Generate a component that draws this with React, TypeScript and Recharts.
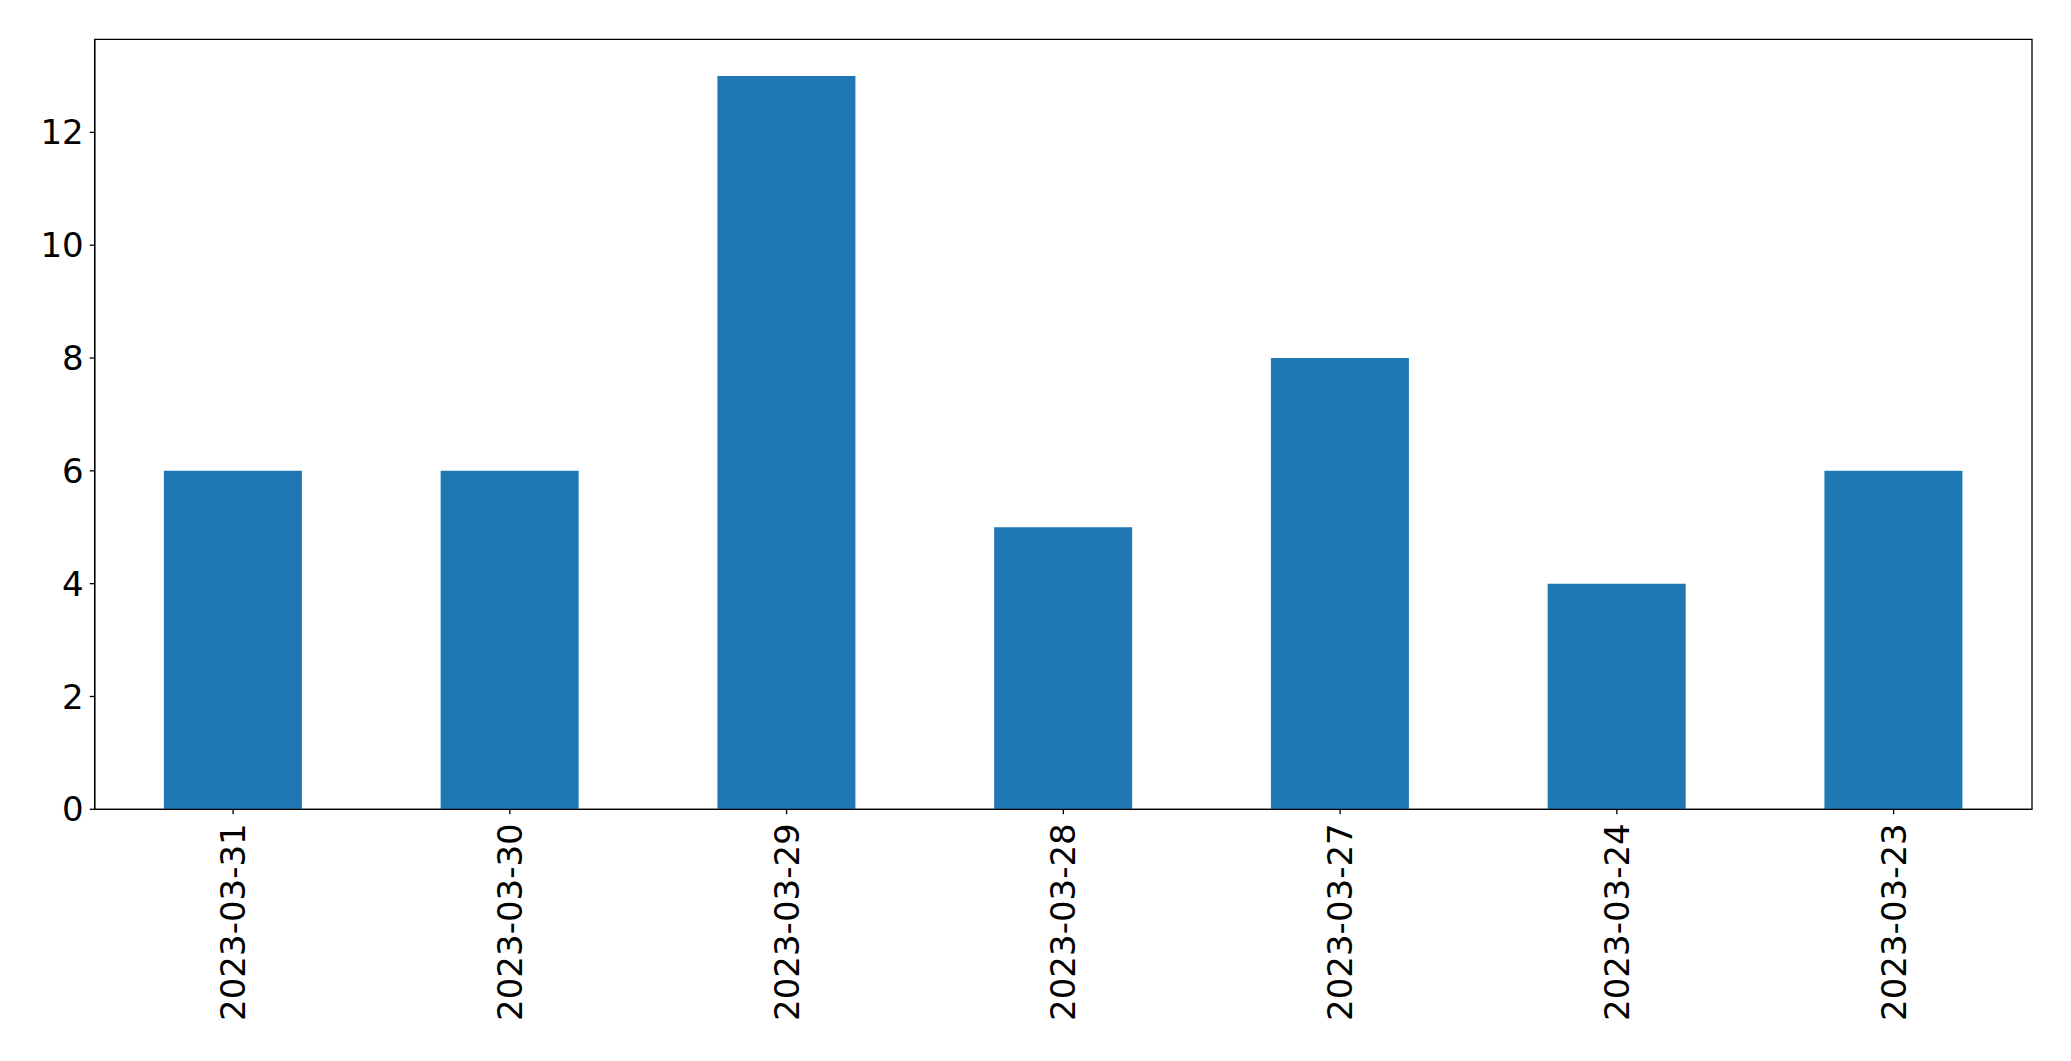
import React from "react";
import { BarChart, Bar, XAxis, YAxis, ReferenceArea } from "recharts";

const categories = ["2023-03-31", "2023-03-30", "2023-03-29", "2023-03-28", "2023-03-27", "2023-03-24", "2023-03-23"];
const counts = [6, 6, 13, 5, 8, 4, 6];
const yTicks = [0, 2, 4, 6, 8, 10, 12];
const yMax = 13.65;

const data = categories.map((c, i) => ({ date: c, count: counts[i] }));

const FONT = "DejaVu Sans";

const XTick = (props: any) => {
  const { x, y, payload } = props;
  return (
    <text
      x={x}
      y={y}
      transform={`rotate(-90, ${x}, ${y})`}
      textAnchor="end"
      dominantBaseline="central"
      fontFamily={FONT}
      fontSize={34}
      fill="#000"
    >
      {payload.value}
    </text>
  );
};

export default function App() {
  return (
    <div style={{ position: "absolute", left: 0, top: 0, width: 2071, height: 1061, background: "#fff" }}>
      <BarChart
        width={2071}
        height={1061}
        data={data}
        margin={{ top: 39.3, right: 39, left: 14.7, bottom: 11.7 }}
        barCategoryGap="25%"
      >
        <XAxis
          dataKey="date"
          height={240}
          interval={0}
          tick={<XTick />}
          tickSize={5}
          tickMargin={9}
          tickLine={{ stroke: "#000", strokeWidth: 1.3 }}
          axisLine={{ stroke: "#000", strokeWidth: 1.3 }}
        />
        <YAxis
          width={80}
          domain={[0, yMax]}
          ticks={yTicks}
          interval={0}
          tickSize={5}
          tickMargin={6}
          tick={{ fontFamily: FONT, fontSize: 34, fill: "#000" }}
          tickLine={{ stroke: "#000", strokeWidth: 1.3 }}
          axisLine={{ stroke: "#000", strokeWidth: 1.3 }}
        />
        <Bar dataKey="count" fill="#1f77b4" isAnimationActive={false} />
        <ReferenceArea
          x1={categories[0]}
          x2={categories[categories.length - 1]}
          y1={0}
          y2={yMax}
          fill="none"
          fillOpacity={0}
          stroke="#000"
          strokeWidth={1.3}
          ifOverflow="visible"
        />
      </BarChart>
    </div>
  );
}
